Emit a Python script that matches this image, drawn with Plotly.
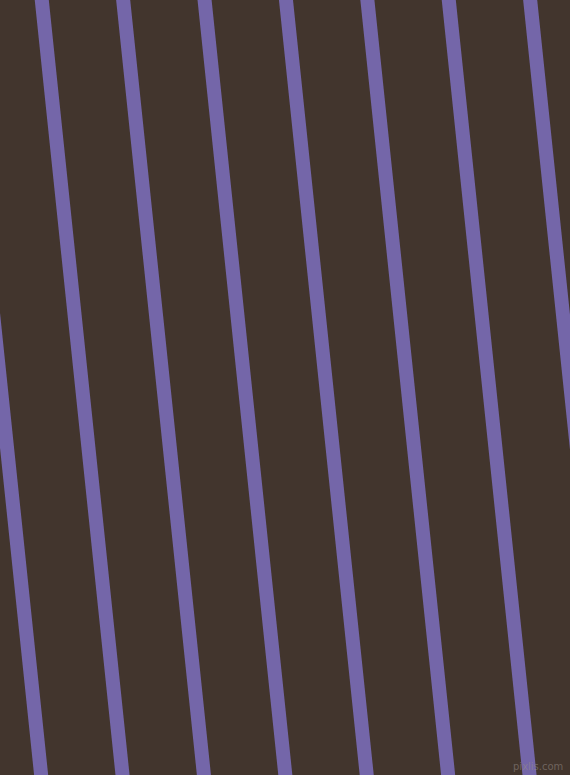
import plotly.graph_objects as go

# Stripe centre positions (px) where each stripe crosses y=-40 and y=815
# (just past the top and bottom edges, so the line ends are hidden)
stripe_top_x = [-43.8, 37.6, 119.0, 200.4, 281.8, 363.2, 444.6, 526.0]
stripe_bottom_x = [45.3, 126.7, 208.1, 289.5, 370.9, 452.3, 533.7, 615.1]
edge_y = [-40, 815]

bg_color = '#42352D'
stripe_color = '#7466A9'

fig = go.Figure()

for x0, x1 in zip(stripe_top_x, stripe_bottom_x):
    fig.add_trace(go.Scatter(
        x=[x0, x1],
        y=edge_y,
        mode='lines',
        line=dict(color=stripe_color, width=14),
        hoverinfo='skip',
        showlegend=False,
        cliponaxis=True
    ))

# faint watermark in the corner
fig.add_annotation(
    x=565, y=766, xref='x', yref='y',
    text='pixlis.com', showarrow=False,
    xanchor='right', yanchor='middle',
    font=dict(family='DejaVu Sans', size=10, color='rgba(150,140,135,0.55)')
)

fig.update_layout(
    width=570, height=775,
    margin=dict(l=0, r=0, t=0, b=0),
    paper_bgcolor=bg_color,
    plot_bgcolor=bg_color,
    showlegend=False
)
fig.update_xaxes(range=[0, 570], visible=False, fixedrange=True)
fig.update_yaxes(range=[775, 0], visible=False, fixedrange=True)

# drop the page's default body margin so the chart sits flush at 0,0
fig.write_html('out.html', config={'displayModeBar': False},
               post_script="document.body.style.margin='0';document.body.style.overflow='hidden';")
